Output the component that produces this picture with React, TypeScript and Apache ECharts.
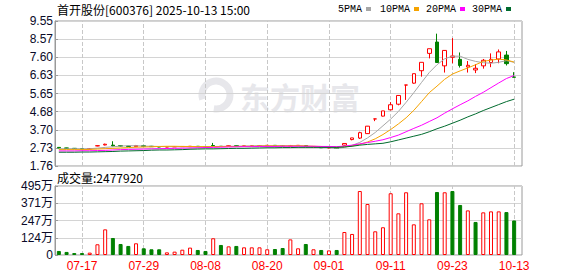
import React, { useEffect, useRef } from 'react';
import * as echarts from 'echarts';

const titleText = '首开股份[600376] 2025-10-13 15:00';

const dates = [
  '07-14', '07-15', '07-16', '07-17', '07-18', '07-21', '07-22', '07-23', '07-24', '07-25',
  '07-28', '07-29', '07-30', '07-31', '08-01', '08-04', '08-05', '08-06', '08-07', '08-08',
  '08-11', '08-12', '08-13', '08-14', '08-15', '08-18', '08-19', '08-20', '08-21', '08-22',
  '08-25', '08-26', '08-27', '08-28', '08-29', '09-01', '09-02', '09-03', '09-04', '09-05',
  '09-08', '09-09', '09-10', '09-11', '09-12', '09-15', '09-16', '09-17', '09-18', '09-19',
  '09-22', '09-23', '09-24', '09-25', '09-26', '09-29', '09-30', '10-09', '10-10', '10-13',
];
const xTickLabels = ['07-17', '07-29', '08-08', '08-20', '09-01', '09-11', '09-23', '10-13'];

const opens = [
  2.76, 2.73, 2.71, 2.69, 2.67, 2.84, 2.89, 2.88, 2.85, 2.83,
  2.80, 2.85, 2.82, 2.80, 2.78, 2.79, 2.80, 2.80, 2.82, 2.80,
  2.86, 2.82, 2.81, 2.85, 2.83, 2.84, 2.85, 2.86, 2.87, 2.85,
  2.83, 2.86, 2.86, 2.79, 2.80, 2.73, 2.75, 2.88, 3.18, 3.26,
  3.50, 4.29, 4.44, 4.78, 5.08, 6.11, 6.21, 6.88, 7.81, 8.42,
  7.14, 7.60, 7.49, 7.08, 6.92, 7.14, 7.32, 7.51, 7.72, 6.54,
];
const closes = [
  2.73, 2.71, 2.69, 2.67, 2.70, 2.85, 2.93, 2.84, 2.83, 2.81,
  2.86, 2.81, 2.80, 2.78, 2.79, 2.80, 2.81, 2.82, 2.80, 2.79,
  2.82, 2.81, 2.85, 2.83, 2.84, 2.85, 2.86, 2.87, 2.85, 2.84,
  2.86, 2.87, 2.80, 2.81, 2.74, 2.75, 2.70, 2.97, 3.27, 3.55,
  3.90, 4.29, 4.72, 5.05, 5.55, 6.11, 6.72, 7.33, 8.06, 7.32,
  7.97, 7.67, 7.16, 7.17, 7.01, 7.44, 7.49, 7.89, 7.26, 6.53,
];
const lows = [
  2.71, 2.69, 2.68, 2.66, 2.66, 2.82, 2.87, 2.82, 2.80, 2.79,
  2.79, 2.80, 2.79, 2.77, 2.77, 2.78, 2.79, 2.79, 2.79, 2.78,
  2.80, 2.79, 2.80, 2.82, 2.82, 2.83, 2.84, 2.85, 2.84, 2.83,
  2.82, 2.85, 2.79, 2.77, 2.73, 2.71, 2.69, 2.86, 3.14, 3.21,
  3.48, 4.17, 4.42, 4.75, 5.02, 5.31, 6.18, 6.56, 7.54, 7.30,
  6.78, 7.28, 7.05, 6.78, 6.75, 6.99, 7.07, 7.28, 7.16, 6.53,
];
const highs = [
  2.77, 2.74, 2.72, 2.70, 2.71, 2.86, 2.96, 3.09, 2.86, 2.84,
  2.89, 2.86, 2.84, 2.81, 2.80, 2.81, 2.82, 2.83, 2.83, 2.81,
  3.00, 2.83, 2.87, 2.86, 2.85, 2.86, 2.87, 2.88, 2.88, 2.86,
  2.89, 2.88, 2.87, 2.82, 2.81, 2.76, 2.76, 2.97, 3.27, 3.60,
  3.91, 4.29, 4.72, 5.19, 5.56, 6.11, 6.72, 7.33, 8.06, 8.87,
  7.99, 8.63, 7.86, 7.40, 7.23, 7.51, 7.81, 8.02, 7.94, 6.80,
];

const ma5 = [
  2.68, 2.68, 2.69, 2.68, 2.69, 2.72, 2.76, 2.79, 2.83, 2.85,
  2.85, 2.83, 2.82, 2.81, 2.80, 2.80, 2.80, 2.80, 2.80, 2.80,
  2.81, 2.81, 2.82, 2.82, 2.83, 2.84, 2.85, 2.85, 2.85, 2.85,
  2.85, 2.85, 2.82, 2.79, 2.77, 2.74, 2.71, 2.76, 2.87, 3.03,
  3.27, 3.56, 3.92, 4.28, 4.69, 5.18, 5.70, 6.25, 6.78, 7.20,
  7.52, 7.66, 7.66, 7.49, 7.38, 7.31, 7.28, 7.33, 7.42, 7.33,
];
const ma10 = [
  2.64, 2.64, 2.64, 2.64, 2.65, 2.67, 2.69, 2.71, 2.73, 2.75,
  2.77, 2.78, 2.79, 2.81, 2.82, 2.82, 2.81, 2.81, 2.80, 2.80,
  2.80, 2.81, 2.81, 2.81, 2.82, 2.82, 2.83, 2.84, 2.84, 2.84,
  2.84, 2.85, 2.84, 2.82, 2.81, 2.80, 2.78, 2.80, 2.84, 2.92,
  3.05, 3.22, 3.45, 3.72, 4.02, 4.35, 4.75, 5.22, 5.70, 6.05,
  6.42, 6.70, 6.87, 7.03, 7.20, 7.38, 7.45, 7.50, 7.46, 7.34,
];
const ma20 = [
  2.57, 2.57, 2.57, 2.58, 2.58, 2.59, 2.60, 2.62, 2.64, 2.65,
  2.66, 2.67, 2.68, 2.69, 2.70, 2.71, 2.72, 2.73, 2.74, 2.75,
  2.76, 2.77, 2.78, 2.79, 2.80, 2.80, 2.81, 2.81, 2.81, 2.82,
  2.82, 2.82, 2.82, 2.82, 2.81, 2.81, 2.80, 2.83, 2.88, 2.95,
  3.02, 3.09, 3.17, 3.29, 3.42, 3.60, 3.78, 3.95, 4.15, 4.35,
  4.60, 4.83, 5.05, 5.26, 5.50, 5.72, 5.97, 6.22, 6.46, 6.62,
];
const ma30 = [
  2.50, 2.50, 2.50, 2.51, 2.51, 2.52, 2.53, 2.54, 2.56, 2.57,
  2.58, 2.59, 2.61, 2.62, 2.62, 2.63, 2.64, 2.66, 2.67, 2.68,
  2.68, 2.69, 2.70, 2.71, 2.71, 2.72, 2.73, 2.74, 2.74, 2.75,
  2.75, 2.76, 2.76, 2.76, 2.76, 2.76, 2.76, 2.78, 2.82, 2.88,
  2.92, 2.95, 2.98, 3.06, 3.16, 3.26, 3.36, 3.46, 3.60, 3.76,
  3.90, 4.06, 4.22, 4.40, 4.56, 4.74, 4.90, 5.06, 5.22, 5.35,
];

// volume in 万 (10,000 shares)
const volumes = [
  29, 22, 14, 14, 17, 77, 184, 122, 79, 65,
  84, 48, 41, 41, 19, 24, 38, 53, 36, 29,
  120, 72, 62, 65, 55, 55, 55, 41, 43, 50,
  112, 48, 79, 41, 36, 33, 36, 165, 151, 459,
  366, 170, 199, 443, 299, 450, 220, 371, 256, 452,
  450, 459, 359, 320, 237, 306, 313, 313, 308, 247.792,
];
// 1 = up (red hollow), 0 = down (green filled)
const volUp = [
  0, 0, 0, 0, 1, 1, 1, 0, 0, 0,
  1, 0, 0, 0, 1, 1, 1, 1, 0, 0,
  1, 0, 1, 0, 1, 1, 1, 1, 0, 0,
  1, 1, 0, 1, 0, 1, 0, 1, 1, 1,
  1, 1, 1, 1, 1, 1, 1, 1, 1, 0,
  1, 0, 0, 1, 0, 1, 1, 1, 0, 0,
];

const priceTickLabels = ['1.76', '2.73', '3.70', '4.68', '5.65', '6.63', '7.60', '8.57', '9.55'];
const priceMin = 1.76;
const priceMax = 9.55;
const volTickLabels = ['0', '124万', '247万', '371万', '495万'];
const volMax = 495;

const maNames = ['5PMA', '10PMA', '20PMA', '30PMA'];
const maColors = ['#a6a6a6', '#f5a300', '#ff00ff', '#006b2e'];
const maSeries = [ma5, ma10, ma20, ma30];

const UP = '#ff0000';
const DOWN = '#008000';
const numFont = '"Liberation Sans", "Noto Sans CJK SC", sans-serif';
const cjkFont = '"Noto Sans CJK SC", "Liberation Sans", sans-serif';
const monoFont = '"Liberation Mono", monospace';

export default function App() {
  const ref = useRef<HTMLDivElement>(null);

  useEffect(() => {
    if (!ref.current) return;
    const chart = echarts.init(ref.current, undefined, { renderer: 'svg' });

    const L = 55;
    const frameRight = 578 - 522;
    const dataRight = 578 - 518;
    const pTop = 21;
    const pH = 145;
    const vTop = 186;
    const vH = 69;

    const legendGraphics: any[] = [];
    const legendX = [338, 380, 426, 472];
    maNames.forEach((n, i) => {
      legendGraphics.push({
        type: 'text',
        x: legendX[i],
        y: 9,
        style: { text: n, fontSize: 10, fontFamily: monoFont, fill: '#000', verticalAlign: 'middle', align: 'left' },
      });
      legendGraphics.push({
        type: 'rect',
        shape: { x: legendX[i] + n.length * 6 + 4, y: 7, width: 5, height: 4 },
        style: { fill: maColors[i] },
      });
    });

    const dashedMark = {
      silent: true,
      z: 1,
      symbol: ['none', 'none'],
      label: { show: false },
      emphasis: { disabled: true },
      lineStyle: { type: 'dashed', color: '#c8c8c8', width: 1 },
      data: xTickLabels.map((d) => ({ xAxis: d })),
    };

    const option: any = {
      animation: false,
      backgroundColor: '#ffffff',
      grid: [
        { left: L, right: frameRight, top: pTop, height: pH, show: true, borderColor: '#9a9a9a', borderWidth: 1, backgroundColor: 'transparent' },
        { left: L, right: dataRight, top: pTop, height: pH },
        { left: L, right: frameRight, top: vTop, height: vH, show: true, borderColor: '#9a9a9a', borderWidth: 1, backgroundColor: 'transparent' },
        { left: L, right: dataRight, top: vTop, height: vH },
      ],
      xAxis: [
        { type: 'value', gridIndex: 0, min: 0, max: 1, show: false },
        { type: 'category', gridIndex: 1, data: dates, boundaryGap: true, show: false },
        { type: 'value', gridIndex: 2, min: 0, max: 1, show: false },
        {
          type: 'category',
          gridIndex: 3,
          data: dates,
          boundaryGap: true,
          axisLine: { show: false },
          axisTick: { show: false },
          splitLine: { show: false },
          axisLabel: {
            interval: (_i: number, v: string) => xTickLabels.includes(v),
            color: '#ff0000',
            fontSize: 12,
            fontFamily: numFont,
            margin: 5,
          },
        },
      ],
      yAxis: [
        {
          type: 'value',
          gridIndex: 0,
          min: 0,
          max: priceTickLabels.length - 1,
          interval: 1,
          axisLine: { show: true, lineStyle: { color: '#9a9a9a' } },
          axisTick: { show: true, inside: true, length: 3, lineStyle: { color: '#9a9a9a' } },
          axisLabel: {
            formatter: (v: number) => priceTickLabels[Math.round(v)],
            color: '#0a0a28',
            fontSize: 12,
            fontFamily: numFont,
            margin: 2,
          },
          splitLine: { show: true, lineStyle: { color: '#d4d4d4', width: 1 } },
        },
        { type: 'value', gridIndex: 1, min: priceMin, max: priceMax, show: false, splitLine: { show: false } },
        {
          type: 'value',
          gridIndex: 2,
          min: 0,
          max: volTickLabels.length - 1,
          interval: 1,
          axisLine: { show: true, lineStyle: { color: '#9a9a9a' } },
          axisTick: { show: true, inside: true, length: 3, lineStyle: { color: '#9a9a9a' } },
          axisLabel: {
            formatter: (v: number) => volTickLabels[Math.round(v)],
            color: '#0a0a28',
            fontSize: 12,
            fontFamily: numFont,
            margin: 2,
          },
          splitLine: { show: true, lineStyle: { color: '#d4d4d4', width: 1 } },
        },
        { type: 'value', gridIndex: 3, min: 0, max: volMax, show: false, splitLine: { show: false } },
      ],
      graphic: [
        {
          type: 'arc',
          z: -1,
          silent: true,
          shape: { cx: 216, cy: 95, r: 14, startAngle: Math.PI * 0.9, endAngle: Math.PI * 2.55 },
          style: { stroke: '#e7e7eb', lineWidth: 7, fill: 'none' },
        },
        {
          type: 'text',
          z: -1,
          silent: true,
          x: 240,
          y: 96,
          style: {
            text: '东方财富',
            fontSize: 30,
            fontWeight: 'bold',
            fontFamily: cjkFont,
            fill: '#e7e7eb',
            verticalAlign: 'middle',
            align: 'left',
          },
        },
        {
          type: 'text',
          x: 57,
          y: 9,
          style: { text: titleText, fontSize: 12, fontFamily: cjkFont, fill: '#000', verticalAlign: 'middle', align: 'left' },
        },
        {
          type: 'text',
          x: 57,
          y: 177,
          style: {
            text: '成交量:' + Math.round(volumes[volumes.length - 1] * 10000),
            fontSize: 12,
            fontFamily: cjkFont,
            fill: '#000',
            verticalAlign: 'middle',
            align: 'left',
          },
        },
        ...legendGraphics,
      ],
      series: [
        {
          type: 'line',
          xAxisIndex: 1,
          yAxisIndex: 1,
          data: dates.map(() => null),
          symbol: 'none',
          z: 1,
          markLine: dashedMark,
        },
        {
          type: 'candlestick',
          xAxisIndex: 1,
          yAxisIndex: 1,
          z: 3,
          barWidth: 4,
          data: dates.map((_, i) => [opens[i], closes[i], lows[i], highs[i]]),
          itemStyle: {
            color: '#ffffff',
            color0: DOWN,
            borderColor: UP,
            borderColor0: DOWN,
            borderColorDoji: UP,
            borderWidth: 1,
          },
        },
        ...maSeries.map((d, i) => ({
          type: 'line',
          name: maNames[i],
          xAxisIndex: 1,
          yAxisIndex: 1,
          data: d,
          symbol: 'none',
          z: 4,
          lineStyle: { color: maColors[i], width: 1 },
        })),
        {
          type: 'line',
          xAxisIndex: 3,
          yAxisIndex: 3,
          data: dates.map(() => null),
          symbol: 'none',
          z: 1,
          markLine: dashedMark,
        },
        {
          type: 'bar',
          xAxisIndex: 3,
          yAxisIndex: 3,
          z: 3,
          barWidth: 4,
          data: volumes.map((v, i) => ({
            value: v,
            itemStyle: {
              color: volUp[i] ? '#ffffff' : DOWN,
              borderColor: volUp[i] ? UP : DOWN,
              borderWidth: 1,
            },
          })),
        },
      ],
    };

    chart.setOption(option);
    return () => chart.dispose();
  }, []);

  return (
    <div
      ref={ref}
      style={{ position: 'absolute', left: 0, top: 0, width: 578, height: 276, background: '#fff' }}
    />
  );
}
